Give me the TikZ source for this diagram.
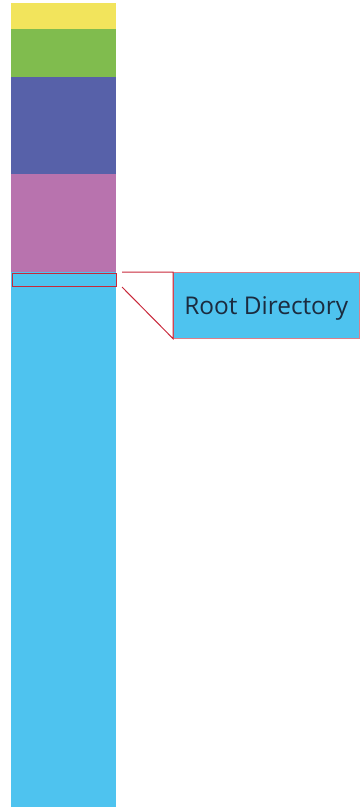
\documentclass[tikz,border=0pt]{standalone}
\usepackage{fontspec}
\setmainfont{Open Sans}
\definecolor{cyel}{HTML}{F2E45C}
\definecolor{cgrn}{HTML}{80BC4E}
\definecolor{cpur}{HTML}{5761A9}
\definecolor{cpnk}{HTML}{B873AE}
\definecolor{cblu}{HTML}{4EC3EF}
\definecolor{cred}{HTML}{C8283A}
\definecolor{ctxt}{HTML}{1B2B3F}
\begin{document}
\begin{tikzpicture}[x=1bp,y=-1bp,
  callout/.style={cred, line width=1bp}]
\useasboundingbox (0,0) rectangle (359,811);
\fill[cyel] (11,3) rectangle (116,29);
\fill[cgrn] (11,29) rectangle (116,77);
\fill[cpur] (11,77) rectangle (116,174);
\fill[cpnk] (11,174) rectangle (116,272);
\fill[cblu] (11,272) rectangle (116,807);
\node[draw=cred, line width=1.2bp, minimum width=104bp, minimum height=13bp, inner sep=0pt, anchor=north west] (root) at (11.6,273) {};
\node[fill=cblu, draw=cred!60, line width=0.6bp, minimum width=186bp, minimum height=66bp, inner sep=0pt, text height=25bp, text depth=6bp, anchor=north west, text=ctxt, font=\fontsize{24.5}{28}\selectfont] (label) at (173,272) {Root Directory};
\coordinate (a) at (122,272);
\coordinate (b) at (122,287);
\draw[callout] (a) -- (label.north west) -- (label.south west) -- (b);
\end{tikzpicture}
\end{document}
